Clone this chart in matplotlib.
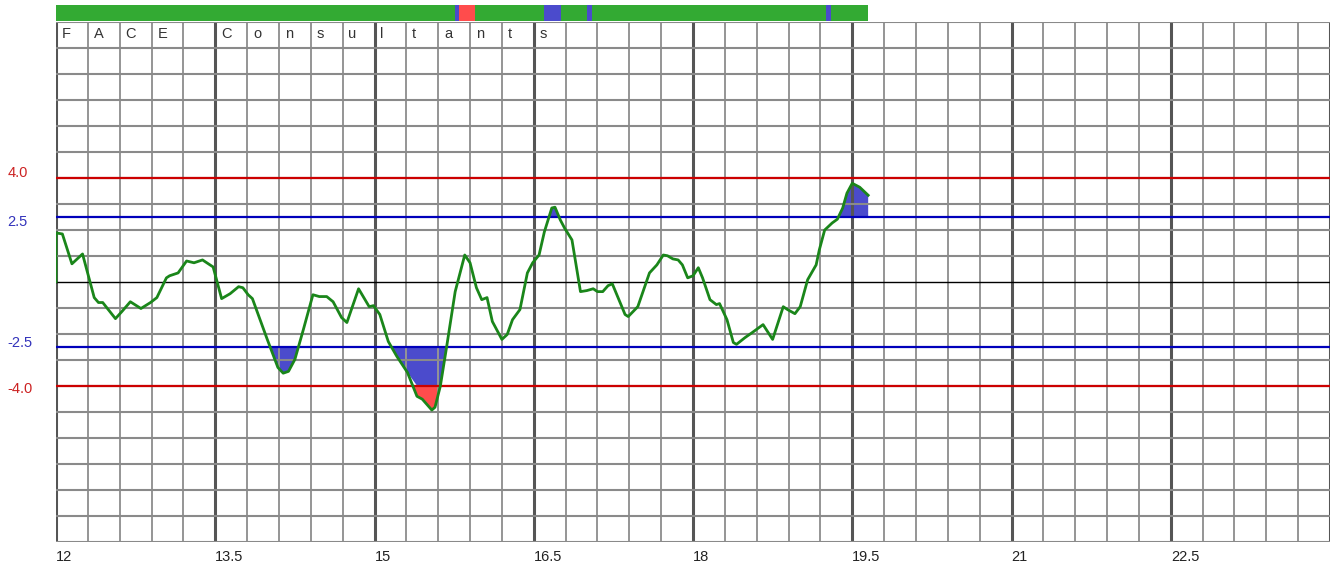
import numpy as np
import matplotlib
matplotlib.use('Agg')
import matplotlib.pyplot as plt

plt.rcParams['font.family'] = ['Liberation Sans', 'DejaVu Sans']

# curve
xs = [12.00, 12.00, 12.06, 12.15, 12.25, 12.36, 12.40, 12.44, 12.56, 12.62, 12.70,
      12.80, 12.89, 12.95, 13.04, 13.07, 13.15, 13.23, 13.30, 13.38, 13.45,
      13.48, 13.56, 13.64, 13.72, 13.76, 13.81, 13.85, 13.99, 14.09, 14.14,
      14.19, 14.25, 14.33, 14.42, 14.48, 14.55, 14.61, 14.69, 14.74, 14.85,
      14.95, 14.99, 15.05, 15.13, 15.21, 15.31, 15.40, 15.45, 15.54, 15.57,
      15.62, 15.68, 15.76, 15.85, 15.90, 15.96, 16.01, 16.06, 16.11, 16.20,
      16.25, 16.30, 16.37, 16.44, 16.49, 16.55, 16.60, 16.67, 16.70, 16.75,
      16.79, 16.86, 16.94, 17.00, 17.06, 17.10, 17.15, 17.20, 17.24, 17.36,
      17.39, 17.48, 17.59, 17.66, 17.72, 17.76, 17.81, 17.86, 17.90, 17.95,
      18.00, 18.05, 18.09, 18.16, 18.22, 18.25, 18.32, 18.38, 18.41, 18.49,
      18.56, 18.66, 18.75, 18.85, 18.89, 18.96, 19.01, 19.08, 19.16, 19.19,
      19.24, 19.31, 19.36, 19.41, 19.45, 19.50, 19.57, 19.65]
ys = [0.00, 1.88, 1.84, 0.69, 1.07, -0.61, -0.80, -0.80, -1.42, -1.15, -0.77,
      -1.03, -0.80, -0.61, 0.15, 0.23, 0.34, 0.80, 0.73, 0.84, 0.65,
      0.57, -0.65, -0.46, -0.19, -0.23, -0.50, -0.65, -2.22, -3.30, -3.52,
      -3.45, -2.99, -1.84, -0.50, -0.57, -0.57, -0.77, -1.38, -1.57, -0.27,
      -0.96, -0.92, -1.26, -2.30, -2.87, -3.49, -4.41, -4.52, -4.94, -4.83,
      -4.02, -2.49, -0.38, 1.03, 0.73, -0.23, -0.69, -0.61, -1.53, -2.22,
      -2.03, -1.46, -1.07, 0.34, 0.73, 1.03, 1.92, 2.84, 2.87, 2.38,
      2.07, 1.61, -0.38, -0.34, -0.27, -0.38, -0.38, -0.15, -0.08, -1.26,
      -1.34, -0.96, 0.34, 0.65, 1.03, 1.00, 0.88, 0.84, 0.65, 0.15,
      0.23, 0.54, 0.15, -0.69, -0.88, -0.84, -1.46, -2.34, -2.41, -2.15,
      -1.95, -1.65, -2.22, -0.96, -1.07, -1.23, -0.96, 0.08, 0.65, 1.23,
      1.99, 2.26, 2.41, 2.84, 3.41, 3.79, 3.64, 3.33]

warn_level = 2.5
alarm_level = 4.0

letters = list("FACE Consultants")
tick_vals = [12, 13.5, 15, 16.5, 18, 19.5, 21, 22.5]
tick_labels = ['12', '13.5', '15', '16.5', '18', '19.5', '21', '22.5']

# status bar on top
bar_edges = [12.0, 15.76, 15.80, 15.95, 16.60, 16.76, 17.00, 17.05, 19.25, 19.30, 19.65]
bar_states = ['ok', 'warn', 'alarm', 'ok', 'warn', 'ok', 'warn', 'ok', 'warn', 'ok']

GREEN = '#33aa33'
BLUE = '#4b4bcc'
RED = '#ff4c4c'
state_colors = {'ok': GREEN, 'warn': BLUE, 'alarm': RED}

fig = plt.figure(figsize=(13.37, 5.70), dpi=100)
ax = fig.add_axes([56 / 1337, 28.5 / 570, 1274 / 1337, 519.5 / 570])
ax.set_xlim(12, 24)
ax.set_ylim(-10, 10)
for s in ax.spines.values():
    s.set_visible(False)

x = np.array(xs)
y = np.array(ys)

# filled excursions
ax.fill_between(x, warn_level, np.minimum(y, alarm_level), where=y > warn_level,
                interpolate=True, color=BLUE, lw=0, zorder=1)
ax.fill_between(x, alarm_level, y, where=y > alarm_level,
                interpolate=True, color=RED, lw=0, zorder=1)
ax.fill_between(x, -warn_level, np.maximum(y, -alarm_level), where=y < -warn_level,
                interpolate=True, color=BLUE, lw=0, zorder=1)
ax.fill_between(x, -alarm_level, y, where=y < -alarm_level,
                interpolate=True, color=RED, lw=0, zorder=1)

# grid
for v in np.arange(12, 24.001, 0.3):
    major = abs((v - 12) / 1.5 - round((v - 12) / 1.5)) < 1e-6
    ax.axvline(v, color='#555555' if major else '#959595',
               lw=2.2 if major else 1.4, zorder=2)
for h in range(-10, 11):
    if h == 0:
        continue
    ax.axhline(h, color='#8a8a8a', lw=1.5, zorder=2)
ax.axhline(0, color='black', lw=1.0, zorder=3)

ax.axhline(alarm_level, color='#cc0000', lw=1.6, zorder=3)
ax.axhline(-alarm_level, color='#cc0000', lw=1.6, zorder=3)
ax.axhline(warn_level, color='#0000bb', lw=1.6, zorder=3)
ax.axhline(-warn_level, color='#0000bb', lw=1.6, zorder=3)

ax.plot(x, y, color='#1a861a', lw=2.0, zorder=4, solid_joinstyle='round')

# threshold labels
lab_kw = dict(fontsize=10.5, va='center', ha='left', clip_on=False)
ax.text(11.54, 4.18, '4.0', color='#cc2222', **lab_kw)
ax.text(11.54, 2.31, '2.5', color='#3333bb', **lab_kw)
ax.text(11.54, -2.37, '-2.5', color='#3333bb', **lab_kw)
ax.text(11.54, -4.13, '-4.0', color='#cc2222', **lab_kw)

# letters in the top row
for i, ch in enumerate(letters):
    ax.text(12 + 0.3 * i + 0.055, 9.55, ch, fontsize=10.5, color='#333333',
            va='center', ha='left', zorder=5)

# status bar
for i, st in enumerate(bar_states):
    ax.broken_barh([(bar_edges[i], bar_edges[i + 1] - bar_edges[i])], (10.02, 0.64),
                   facecolors=state_colors[st], clip_on=False, zorder=5)

ax.set_xticks(tick_vals)
ax.set_xticklabels(tick_labels, ha='left', fontsize=10.5, color='#222222')
ax.tick_params(axis='x', length=0, pad=6)
ax.set_yticks([])

fig.savefig('out.png', dpi=100)
